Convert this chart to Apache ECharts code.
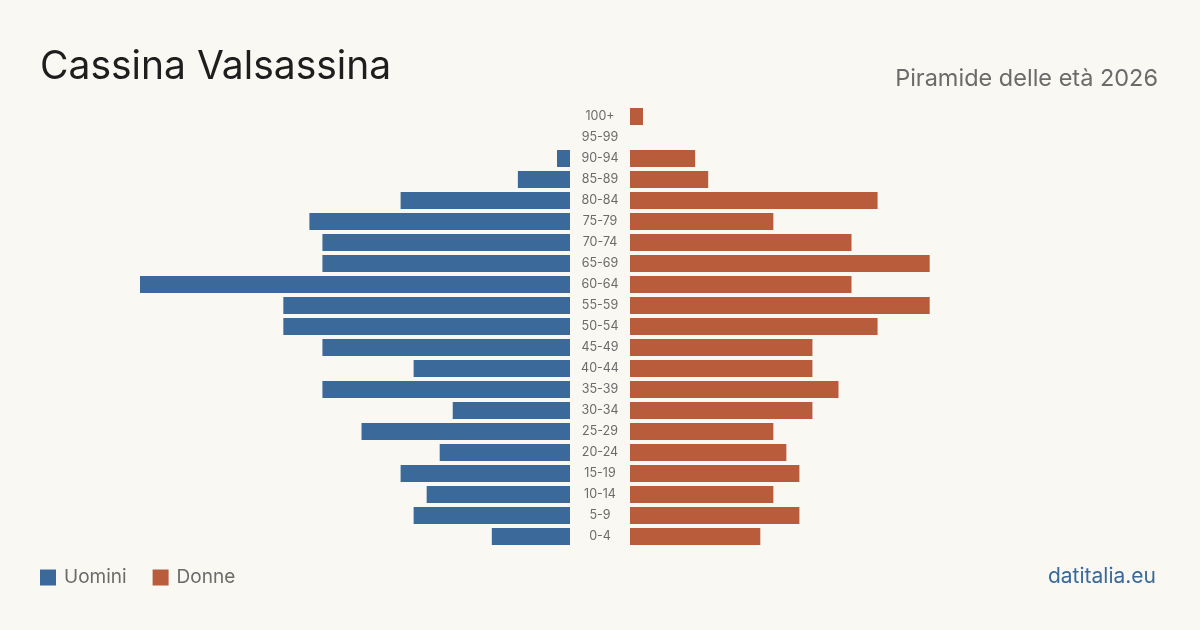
<!DOCTYPE html>
<html>
<head>
<meta charset="utf-8">
<title>Cassina Valsassina - Piramide delle età 2026</title>
<script src="https://cdn.jsdelivr.net/npm/echarts@6/dist/echarts.min.js"></script>
<style>
  html, body { margin: 0; padding: 0; background: #f9f8f3; }
  #chart { width: 1200px; height: 630px; }
</style>
</head>
<body>
<div id="chart"></div>
<script>
// classi d'età, dall'alto verso il basso
const ageClasses = ['100+', '95-99', '90-94', '85-89', '80-84', '75-79', '70-74', '65-69', '60-64', '55-59',
  '50-54', '45-49', '40-44', '35-39', '30-34', '25-29', '20-24', '15-19', '10-14', '5-9', '0-4']
const uomini = [0, 0, 1, 4, 13, 20, 19, 19, 33, 22, 22, 19, 12, 19, 9, 16, 10, 13, 11, 12, 6]
const donne = [1, 0, 5, 6, 19, 11, 17, 23, 17, 23, 19, 14, 14, 16, 14, 11, 12, 13, 11, 13, 10]

const blue = '#3b6a9a'
const orange = '#b95c3c'
const maxVal = Math.max(...uomini, ...donne)

const chart = echarts.init(document.getElementById('chart'))
const option = {
  backgroundColor: '#f9f8f3',
  textStyle: { fontFamily: 'Inter, "Noto Sans", sans-serif' },
  title: [
    {
      text: 'Cassina Valsassina',
      left: 35, top: 43,
      textStyle: { fontSize: 39, fontWeight: 'normal', color: '#1e1e1e', fontFamily: 'Inter' }
    },
    {
      text: 'Piramide delle età 2026',
      right: 37, top: 62,
      textStyle: { fontSize: 23.5, fontWeight: 'normal', color: '#6b6b6b', fontFamily: 'Inter' }
    },
    {
      text: 'datitalia.eu',
      right: 39, top: 561,
      textStyle: { fontSize: 21, fontWeight: 'normal', color: '#3b6a9a', fontFamily: 'Inter' }
    }
  ],
  legend: {
    left: 35, top: 563,
    itemWidth: 16, itemHeight: 16, itemGap: 26,
    icon: 'rect',
    textStyle: { fontSize: 19, color: '#6b6b6b', fontFamily: 'Inter', padding: [0, 0, 0, 3] },
    data: ['Uomini', 'Donne']
  },
  grid: [
    { left: 140, width: 430, top: 106, height: 441 },
    { left: 630, width: 430, top: 106, height: 441 }
  ],
  xAxis: [
    { gridIndex: 0, type: 'value', inverse: true, min: 0, max: maxVal, show: false },
    { gridIndex: 1, type: 'value', min: 0, max: maxVal, show: false }
  ],
  yAxis: [
    {
      gridIndex: 0, type: 'category', inverse: true, position: 'right',
      data: ageClasses,
      axisLine: { show: false }, axisTick: { show: false }, splitLine: { show: false },
      axisLabel: { align: 'center', margin: 30, fontSize: 12.5, color: '#6b6b6b', fontFamily: 'Inter' }
    },
    {
      gridIndex: 1, type: 'category', inverse: true,
      data: ageClasses, show: false
    }
  ],
  series: [
    {
      name: 'Uomini', type: 'bar', xAxisIndex: 0, yAxisIndex: 0,
      data: uomini, barWidth: 17, itemStyle: { color: blue }, silent: true
    },
    {
      name: 'Donne', type: 'bar', xAxisIndex: 1, yAxisIndex: 1,
      data: donne, barWidth: 17, itemStyle: { color: orange }, silent: true
    }
  ]
}
chart.setOption(option)
</script>
</body>
</html>
